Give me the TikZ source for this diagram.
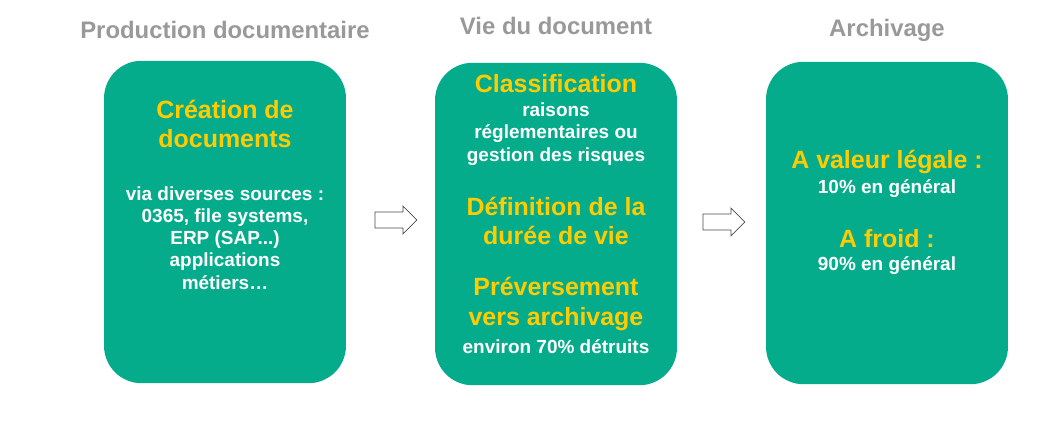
\documentclass[tikz,border=0pt]{standalone}
\usepackage{fontspec}
\setmainfont{Liberation Sans}
\usetikzlibrary{positioning,shapes.arrows}
\definecolor{teal}{HTML}{05AC8C}
\definecolor{gold}{HTML}{FFCC00}
\definecolor{greytitle}{HTML}{999999}

\begin{document}
\begin{tikzpicture}[x=0.02cm,y=-0.02cm,
    phase/.style={fill=teal,rounded corners=0.75cm,minimum width=4.84cm,minimum height=6.45cm},
    title/.style={text=greytitle,font=\bfseries\fontsize{13.6}{15}\selectfont},
    head/.style={text=gold,font=\bfseries\fontsize{14.2}{17}\selectfont,align=center},
    body/.style={text=white,font=\bfseries\fontsize{10.8}{12.6}\selectfont,align=center},
    steparrow/.style={single arrow,draw=black!70,fill=white,minimum height=0.84cm,
      minimum width=0.56cm,single arrow head extend=0.12cm,inner xsep=0pt,inner ysep=0.15cm}]
    \useasboundingbox (0,0) rectangle (1063,433);
    % boxes
    \node[phase] (prod) at (225,222) {};
    \node[phase] (vie) at (556,224) {};
    \node[phase] (arch) at (887,223) {};
    % titles
    \node[title] (tprod) at (225,30) {Production documentaire};
    \node[title] (tvie) at (556,26) {Vie du document};
    \node[title] (tarch) at (887,30) {Archivage};
    % first phase
    \node[head] (crea) at (225,124) {Création de\\documents};
    \node[body] (sources) at (225,238) {via diverses sources :\\0365, file systems,\\ERP (SAP...)\\applications\\métiers…};
    % second phase
    \node[head] (classif) at (556,84) {Classification};
    \node[body] (raisons) at (556,134) {raisons\\réglementaires ou\\gestion des risques};
    \node[head] (duree) at (556,221) {Définition de la\\durée de vie};
    \node[head] (prev) at (556,304) {Préversement\\vers archivage};
    \node[body] (detruits) at (556,347) {environ 70\% détruits};
    % third phase
    \node[head] (legal) at (887,162) {A valeur légale :};
    \node[body] (dix) at (887,189) {10\% en général};
    \node[head] (froid) at (887,239) {A froid :};
    \node[body] (nonante) at (887,266) {90\% en général};
    % arrows
    \node[steparrow] (s1) at (392,220) {};
    \node[steparrow] (s2) at (720,222) {};
\end{tikzpicture}
\end{document}
